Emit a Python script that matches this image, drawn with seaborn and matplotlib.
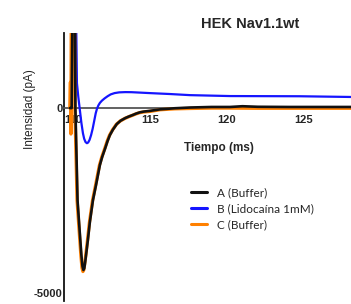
import matplotlib
matplotlib.use("Agg")
import matplotlib.pyplot as plt
import seaborn as sns
import pandas as pd

# ---- data (time in ms, current in pA) ----
t_a = [109.80, 109.92, 110.03, 110.10, 110.16, 110.30, 110.45, 110.55, 110.62, 110.68,
       110.74, 110.80, 110.88, 110.97, 111.10, 111.30, 111.50, 111.75, 111.90, 112.10,
       112.25, 112.40, 112.60, 112.85, 113.10, 113.40, 113.65, 113.90, 114.10, 114.35,
       114.60, 115.00, 115.65, 116.60, 117.60, 119.00, 120.20, 121.00, 122.00, 124.00,
       126.00, 128.10]
i_a = [0, 0, 6000, 6000, 0, -2500, -3400, -3980, -4280, -4380,
       -4330, -4150, -3880, -3570, -3080, -2490, -2080, -1540, -1320, -1080,
       -890, -730, -580, -430, -340, -270, -225, -185, -150, -115,
       -95, -75, -35, -5, 15, 30, 30, 50, 35, 30,
       30, 30]

t_b = [109.80, 109.88, 109.94, 110.15, 110.22, 110.26, 110.35, 110.45, 110.55, 110.65,
       110.73, 110.82, 110.91, 110.99, 111.08, 111.18, 111.28, 111.38, 111.48, 111.56,
       111.65, 111.75, 111.88, 112.05, 112.25, 112.45, 112.70, 113.00, 113.40, 113.80,
       115.00, 116.30, 117.60, 120.20, 124.70, 128.10]
i_b = [0, 0, 6000, 6000, 2000, 675, 300, -50, -400, -680,
       -830, -920, -950, -930, -860, -730, -560, -350, -140, -20,
       70, 140, 200, 260, 320, 370, 405, 425, 432, 430,
       405, 380, 350, 325, 320, 300]

t_c = [109.80, 109.84, 109.87, 109.92, 110.02, 110.08, 110.13, 110.27, 110.42, 110.52,
       110.59, 110.65, 110.71, 110.77, 110.85, 110.94, 111.07, 111.27, 111.47, 111.72,
       111.87, 112.07, 112.22, 112.37, 112.57, 112.82, 113.07, 113.37, 113.62, 113.87,
       114.07, 114.32, 114.60, 115.00, 115.65, 116.60, 117.60, 119.00, 120.20, 122.00,
       124.00, 126.00, 128.10]
i_c = [0, 700, -700, 6000, 6000, 6000, 0, -2500, -3400, -4000,
       -4320, -4420, -4370, -4190, -3920, -3600, -3100, -2510, -2090, -1550,
       -1330, -1090, -900, -740, -590, -440, -350, -280, -235, -195,
       -160, -125, -105, -90, -45, -20, -10, 0, 0, -5,
       -5, -5, -5]

labels = ["A (Buffer)", "B (Lidocaína 1mM)", "C (Buffer)"]
colors = ["#111111", "#1515ff", "#ff8000"]
x_ticks = [110, 115, 120, 125]
y_ticks = [0, -5000]

df = pd.concat([
    pd.DataFrame({"t": t_a, "I": i_a, "serie": labels[0]}),
    pd.DataFrame({"t": t_b, "I": i_b, "serie": labels[1]}),
    pd.DataFrame({"t": t_c, "I": i_c, "serie": labels[2]}),
], ignore_index=True)

sns.set_style("white")
plt.rcParams["font.family"] = ["Liberation Sans", "DejaVu Sans"]

fig = plt.figure(figsize=(3.51, 3.04), dpi=100)
ax = fig.add_axes([0.1823, 0.01, 0.8177, 0.881])

order = [(1, 1.6), (2, 2.4), (0, 1.9)]
for idx, lw in order:
    sub = df[df["serie"] == labels[idx]]
    sns.lineplot(data=sub, x="t", y="I", ax=ax, color=colors[idx], linewidth=lw,
                 sort=False, estimator=None, legend=False, zorder=3)

ax.set_xlim(109.42, 128.05)
ax.set_ylim(-5217, 2027)

ax.spines["top"].set_visible(False)
ax.spines["right"].set_visible(False)
ax.spines["left"].set_color("#111111")
ax.spines["left"].set_linewidth(1.3)
ax.spines["bottom"].set_position(("data", 0))
ax.spines["bottom"].set_color("#555555")
ax.spines["bottom"].set_linewidth(1.3)

ax.set_xticks(x_ticks)
ax.set_xticklabels([str(v) for v in x_ticks], fontsize=8, fontweight="bold")
ax.set_yticks(y_ticks)
ax.set_yticklabels([str(v) for v in y_ticks], fontsize=8, fontweight="bold")
ax.tick_params(axis="x", length=0, pad=5)
ax.tick_params(axis="y", length=0, pad=1)

ax.set_xlabel("")
ax.set_ylabel("")
fig.text(219 / 351, 1 - 148 / 304, "Tiempo (ms)", ha="center", va="center",
         fontsize=8.5, fontweight="bold")
fig.text(30 / 351, 1 - 109 / 304, "Intensidad (pA)", ha="center", va="center",
         rotation=90, fontsize=8.5)
fig.text(250 / 351, 1 - 24 / 304, "HEK Nav1.1wt", ha="center", va="center",
         fontsize=10.5, fontweight="bold")

handles = [plt.Line2D([], [], color=c, linewidth=2.2) for c in colors]
leg = fig.legend(handles, labels, loc="upper left", bbox_to_anchor=(180 / 351, 1 - 177 / 304),
                 frameon=False, handlelength=1.4, handletextpad=0.8, labelspacing=0.4,
                 prop={"family": ["Lato", "DejaVu Sans"], "size": 8.5})

fig.savefig("out.png", dpi=100)
